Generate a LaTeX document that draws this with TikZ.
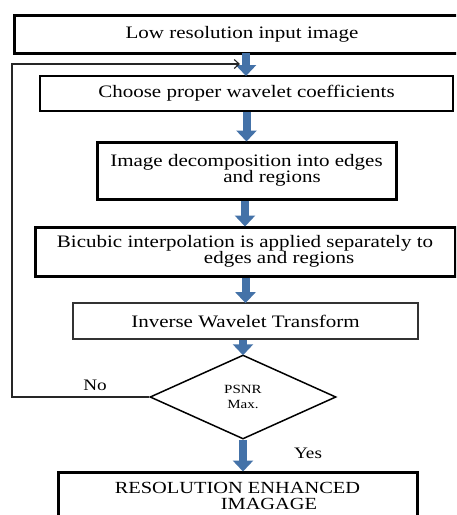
\documentclass[tikz,border=0pt]{standalone}
\usepackage{fontspec}
\setmainfont{Liberation Serif}[FakeStretch=1.2]
\usetikzlibrary{arrows.meta,shapes.geometric}
\definecolor{arrblue}{HTML}{4472A8}
\begin{document}
\begin{tikzpicture}[x=1pt,y=-1pt,
  box/.style={draw=black, rectangle, inner sep=0pt, align=left,
    font=\fontsize{17.5}{16.5}\selectfont},
  thickbox/.style={box, line width=3pt},
  thinbox/.style={box, line width=2pt},
  dec/.style={diamond, draw=black, line width=1.5pt, inner sep=0pt,
    minimum width=186pt, minimum height=84pt, align=center,
    font=\fontsize{12.5}{15}\selectfont},
  bluearr/.style={draw=arrblue, line width=8pt,
    -{Triangle[length=11pt,width=20pt]}, shorten >=-1pt},
  fb/.style={draw=black!85, line width=1.1pt,
    -{Straight Barb[length=5pt,width=9pt]}},
  lbl/.style={font=\fontsize{16}{16}\selectfont, inner sep=0pt}
]
\useasboundingbox (0,0) rectangle (456,515);
\clip (0,0) rectangle (456,515);

\node[thickbox, minimum width=456pt, minimum height=38pt] (b1) at (242,34)
  {Low resolution input image};
\node[thinbox, minimum width=413pt, minimum height=35pt] (b2) at (246.5,93.5)
  {Choose proper wavelet coefficients};
\node[thickbox, minimum width=299pt, minimum height=57pt] (b3) at (246.5,170.5)
  {Image decomposition into edges\\\hspace*{113pt}and regions};
\node[thickbox, minimum width=420pt, minimum height=49pt] (b4) at (245,251.5)
  {Bicubic interpolation is applied separately to\\\hspace*{147pt}edges and regions};
\node[box, draw=black!80, line width=1.8pt, minimum width=345pt, minimum height=36pt] (b5) at (245.5,321)
  {Inverse Wavelet Transform};
\node[dec] (d) at (243,397) {PSNR\\Max.};
\node[thickbox, minimum width=359pt, minimum height=48pt,
  font=\fontsize{17}{16.5}\selectfont] (b6) at (237.5,496)
  {RESOLUTION ENHANCED\\\hspace*{106pt}IMAGAGE};

\node[lbl] (no) at (95,385) {No};
\node[lbl] (yes) at (308,453) {Yes};

\coordinate (fbL) at (12,64);
\coordinate (fbE) at (240,64);

\draw[bluearr] (246,53) coordinate (a1s) -- (a1s |- b2.north);
\draw[bluearr] (b3.north |- b2.south) -- (b3.north);
\draw[bluearr] (b4.north |- b3.south) -- (b4.north);
\draw[bluearr] (b5.north |- b4.south) -- (b5.north);
\draw[bluearr] (d.north |- b5.south) -- (d.north);
\draw[bluearr] (d.south) -- (d.south |- b6.north);

\draw[fb] (d.west) -| (fbL) -- (fbE);
\end{tikzpicture}
\end{document}
